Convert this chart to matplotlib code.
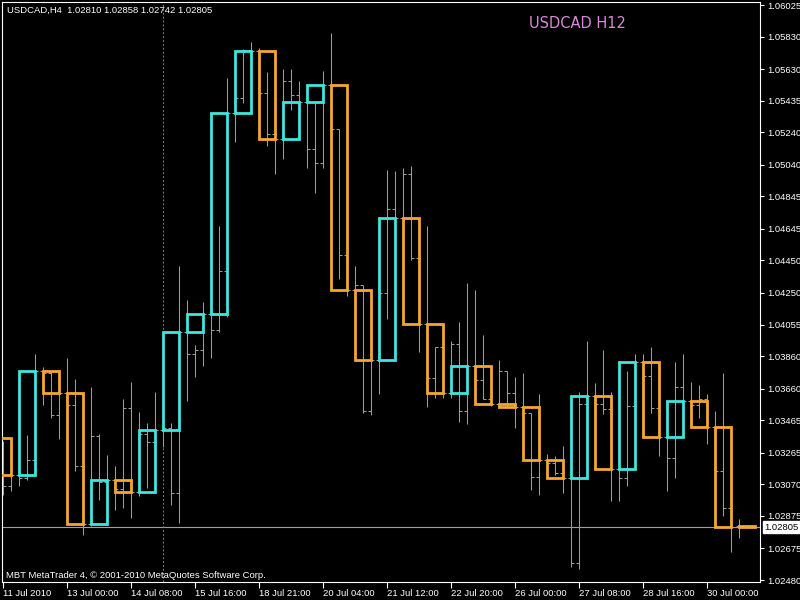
import matplotlib
matplotlib.use("Agg")
import matplotlib.pyplot as plt
from matplotlib.patches import Rectangle

# H4 bars, first entry is bar -1 (just off the left edge of the chart)
first_bar = -1
h4_open = [1.03355, 1.03200, 1.03060, 1.03130, 1.03110, 1.03220, 1.03767, 1.03756, 1.03500, 1.03635,
           1.03560, 1.03180, 1.02824, 1.03368, 1.03085, 1.03095, 1.03040, 1.03540, 1.03021, 1.03380,
           1.03330, 1.03403, 1.03420, 1.03016, 1.04006, 1.03872, 1.03900, 1.04120, 1.04022, 1.04386,
           1.05362, 1.05452, 1.05745, 1.05740, 1.05482, 1.05227, 1.05200, 1.05559, 1.05471, 1.05429,
           1.05135, 1.05049, 1.05533, 1.05262, 1.04486, 1.04270, 1.04300, 1.03520, 1.03835, 1.04252,
           1.04769, 1.04711, 1.04984, 1.04463, 1.04057, 1.03726, 1.03918, 1.03635, 1.03936, 1.03519,
           1.03802, 1.03714, 1.03598, 1.03563, 1.03767, 1.03635, 1.03547, 1.03512, 1.03116, 1.03223,
           1.03200, 1.03141, 1.03107, 1.02585, 1.03566, 1.03612, 1.03566, 1.03535, 1.03162, 1.03107,
           1.03552, 1.03825, 1.03740, 1.03543, 1.03362, 1.03234, 1.03670, 1.03582, 1.03559, 1.03594,
           1.03424, 1.03153, 1.02921, 1.02810]
h4_high = [1.03380, 1.03339, 1.03141, 1.03150, 1.03375, 1.03872, 1.03791, 1.03767, 1.03640, 1.03848,
           1.03720, 1.03200, 1.03672, 1.03380, 1.03251, 1.03183, 1.03596, 1.03703, 1.03518, 1.03448,
           1.03641, 1.03450, 1.03448, 1.04417, 1.04208, 1.03929, 1.04196, 1.04127, 1.04660, 1.05575,
           1.05460, 1.05755, 1.05795, 1.05760, 1.05610, 1.05239, 1.05633, 1.05633, 1.05559, 1.05529,
           1.05429, 1.05621, 1.05853, 1.05262, 1.04486, 1.04417, 1.04300, 1.04000, 1.04260, 1.05007,
           1.05000, 1.05019, 1.05030, 1.04470, 1.04660, 1.03918, 1.03930, 1.03953, 1.04069, 1.04312,
           1.04266, 1.03992, 1.03610, 1.03837, 1.03767, 1.03733, 1.03756, 1.03512, 1.03628, 1.03257,
           1.03246, 1.03304, 1.03130, 1.03640, 1.03953, 1.03694, 1.03899, 1.03640, 1.03170, 1.03767,
           1.03871, 1.03871, 1.03918, 1.03550, 1.03501, 1.03825, 1.03871, 1.03698, 1.03682, 1.03628,
           1.03524, 1.03756, 1.02930, 1.02858]
h4_low = [1.03150, 1.03002, 1.03026, 1.03060, 1.03095, 1.03150, 1.03559, 1.03478, 1.03350, 1.03450,
          1.03150, 1.02760, 1.02810, 1.02975, 1.02832, 1.02912, 1.02924, 1.02865, 1.03000, 1.03050,
          1.03020, 1.03300, 1.02943, 1.02829, 1.03582, 1.03733, 1.03802, 1.03848, 1.04011, 1.04103,
          1.05180, 1.05420, 1.05564, 1.05470, 1.05158, 1.04984, 1.05077, 1.05378, 1.05429, 1.05019,
          1.04868, 1.05019, 1.05250, 1.04335, 1.04231, 1.04266, 1.03512, 1.03500, 1.03628, 1.04092,
          1.04690, 1.04690, 1.04450, 1.03886, 1.03547, 1.03605, 1.03600, 1.03605, 1.03455, 1.03443,
          1.03700, 1.03598, 1.03550, 1.03547, 1.03547, 1.03420, 1.03480, 1.03037, 1.03003, 1.03130,
          1.03130, 1.03014, 1.02560, 1.02550, 1.03550, 1.03500, 1.03501, 1.02968, 1.02968, 1.03060,
          1.03540, 1.03362, 1.03512, 1.03246, 1.03026, 1.03107, 1.03582, 1.03550, 1.03478, 1.03316,
          1.03140, 1.02875, 1.02655, 1.02742]
h4_close = [1.03200, 1.03060, 1.03130, 1.03110, 1.03220, 1.03767, 1.03756, 1.03500, 1.03635, 1.03560,
            1.03180, 1.02824, 1.03368, 1.03085, 1.03095, 1.03040, 1.03540, 1.03021, 1.03380, 1.03330,
            1.03403, 1.03420, 1.03016, 1.04006, 1.03872, 1.03900, 1.04120, 1.04022, 1.04386, 1.05362,
            1.05452, 1.05745, 1.05740, 1.05482, 1.05227, 1.05200, 1.05559, 1.05471, 1.05429, 1.05135,
            1.05049, 1.05533, 1.05262, 1.04486, 1.04270, 1.04300, 1.03520, 1.03835, 1.04252, 1.04769,
            1.04711, 1.04984, 1.04463, 1.04057, 1.03726, 1.03918, 1.03635, 1.03936, 1.03519, 1.03802,
            1.03714, 1.03598, 1.03563, 1.03767, 1.03635, 1.03547, 1.03512, 1.03116, 1.03223, 1.03200,
            1.03141, 1.03107, 1.02585, 1.03566, 1.03612, 1.03566, 1.03535, 1.03162, 1.03107, 1.03552,
            1.03825, 1.03740, 1.03543, 1.03362, 1.03234, 1.03670, 1.03582, 1.03559, 1.03594, 1.03424,
            1.03153, 1.02921, 1.02806, 1.02805]

# H12 boxes, each one covers 3 H4 bars, first one starts at bar -1
h12_open = [1.03355, 1.03130, 1.03767, 1.03635, 1.02824, 1.03095, 1.03021, 1.03403, 1.04006, 1.04120,
            1.05362, 1.05740, 1.05200, 1.05429, 1.05533, 1.04270, 1.03835, 1.04711, 1.04057, 1.03635,
            1.03802, 1.03563, 1.03547, 1.03223, 1.03107, 1.03612, 1.03162, 1.03825, 1.03362, 1.03582,
            1.03424, 1.02810]
h12_close = [1.03130, 1.03767, 1.03635, 1.02824, 1.03095, 1.03021, 1.03403, 1.04006, 1.04120, 1.05362,
             1.05740, 1.05200, 1.05429, 1.05533, 1.04270, 1.03835, 1.04711, 1.04057, 1.03635, 1.03802,
             1.03563, 1.03547, 1.03223, 1.03107, 1.03612, 1.03162, 1.03825, 1.03362, 1.03582, 1.03424,
             1.02806, 1.02805]

price_ticks = [1.06025, 1.05830, 1.05630, 1.05435, 1.05240, 1.05040, 1.04845, 1.04645, 1.04450, 1.04250,
               1.04055, 1.03860, 1.03660, 1.03465, 1.03265, 1.03070, 1.02875, 1.02675, 1.02480]
time_ticks = [0, 8, 16, 24, 32, 40, 48, 56, 64, 72, 80, 88]
time_labels = ["11 Jul 2010", "13 Jul 00:00", "14 Jul 08:00", "15 Jul 16:00", "18 Jul 21:00",
               "20 Jul 04:00", "21 Jul 12:00", "22 Jul 20:00", "26 Jul 00:00", "27 Jul 08:00",
               "28 Jul 16:00", "30 Jul 00:00"]
last_price = 1.02805
separator_bar = 20

plt.rcParams['font.family'] = ['Liberation Sans', 'DejaVu Sans']
bull_color = '#3ee6dc'
bear_color = '#f5a733'
bar_color = '#9c9c9c'

fig = plt.figure(figsize=(8, 6), dpi=100, facecolor='black')
ax = fig.add_axes([2 / 800, 18 / 600, 758 / 800, 580 / 600], facecolor='black')

# H4 bars
xs = [first_bar + k for k in range(len(h4_open))]
ax.vlines(xs, h4_low, h4_high, color=bar_color, lw=0.75, zorder=2)
ax.hlines(h4_open, [x - 0.35 for x in xs], xs, color=bar_color, lw=0.75, zorder=2)
ax.hlines(h4_close, xs, [x + 0.35 for x in xs], color=bar_color, lw=0.75, zorder=2)

# H12 boxes
for k, (o, c) in enumerate(zip(h12_open, h12_close)):
    x0 = first_bar + 3 * k
    col = bull_color if c > o else bear_color
    ax.add_patch(Rectangle((x0, min(o, c)), 2, abs(c - o), fill=False,
                           edgecolor=col, lw=2.0, joinstyle='miter', zorder=3))

ax.axhline(last_price, color='#a0a0a0', lw=0.8, zorder=1)
ax.axvline(separator_bar, color='#808080', lw=0.7, ls=(0, (2, 2)), zorder=1)

ax.set_xlim(-0.125, 94.625)
ax.set_ylim(1.024678, 1.060435)

for sp in ax.spines.values():
    sp.set_color('white')
    sp.set_linewidth(0.8)

ax.yaxis.tick_right()
ax.set_yticks(price_ticks)
ax.set_yticklabels([f"{p:.5f}" for p in price_ticks])
ax.tick_params(axis='y', colors='white', labelsize=6.8, length=3, width=0.8, pad=2)

ax.set_xticks(time_ticks)
ax.set_xticklabels(time_labels)
ax.tick_params(axis='x', colors='white', labelsize=6.8, length=4, width=0.8, pad=1)
for lab in ax.get_xticklabels():
    lab.set_horizontalalignment('left')

# current price label on the price scale
ax.annotate(f"{last_price:.5f}", xy=(1.0, last_price), xycoords=('axes fraction', 'data'),
            xytext=(3, 0), textcoords='offset points', va='center', ha='left',
            fontsize=6.8, color='black',
            bbox=dict(boxstyle='square,pad=0.15', fc='white', ec='white'))

fig.text(7 / 800, 1 - 10 / 600, "USDCAD,H4  1.02810 1.02858 1.02742 1.02805",
         color='white', fontsize=6.8, va='center', ha='left')
fig.text(6 / 800, 1 - 575 / 600, "MBT MetaTrader 4, \u00a9 2001-2010 MetaQuotes Software Corp.",
         color='white', fontsize=6.8, va='center', ha='left')
fig.text(577 / 800, 1 - 24 / 600, "USDCAD H12", color='#d98ad8', fontsize=10.5,
         family=['DejaVu Sans'], va='center', ha='center')

fig.savefig('out.png', dpi=100, facecolor='black')
